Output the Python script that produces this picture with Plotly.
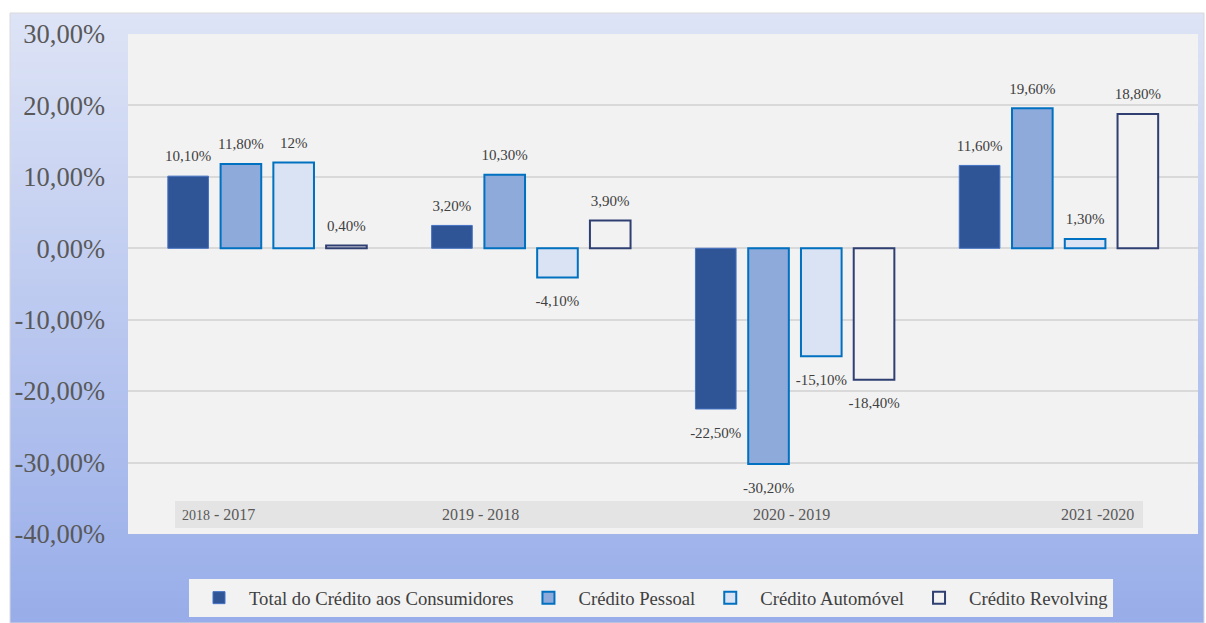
import base64
import struct
import zlib
import plotly.graph_objects as go

# ---------------- data ----------------
categories = ["2018 - 2017", "2019 - 2018", "2020 - 2019", "2021 -2020"]
series_names = ["Total do Crédito aos Consumidores", "Crédito Pessoal",
                "Crédito Automóvel", "Crédito Revolving"]
total = [10.1, 3.2, -22.5, 11.6]
pessoal = [11.8, 10.3, -30.2, 19.6]
automovel = [12.0, -4.1, -15.1, 1.3]
revolving = [0.4, 3.9, -18.4, 18.8]
total_labels = ["10,10%", "3,20%", "-22,50%", "11,60%"]
pessoal_labels = ["11,80%", "10,30%", "-30,20%", "19,60%"]
automovel_labels = ["12%", "-4,10%", "-15,10%", "1,30%"]
revolving_labels = ["0,40%", "3,90%", "-18,40%", "18,80%"]
y_tick_vals = [-40, -30, -20, -10, 0, 10, 20, 30]
y_tick_text = ["-40,00%", "-30,00%", "-20,00%", "-10,00%", "0,00%", "10,00%", "20,00%", "30,00%"]

# ---------------- styles ----------------
FONT = "Liberation Serif, Times New Roman, serif"
fills = ["#2f5597", "#8eaadb", "#dae3f3", "#f2f2f2"]
borders = ["#4472c4", "#0070c0", "#0070c0", "#2f3f72"]
border_w = [1, 2, 2, 2]
BARGAP = 0.2
BARGROUPGAP = 0.23


def gradient_png(top, bottom, h=256, w=4):
    rows = []
    for i in range(h):
        t = i / (h - 1)
        c = bytes(int(round(top[k] + (bottom[k] - top[k]) * t)) for k in range(3))
        rows.append(b"\x00" + c * w)
    raw = b"".join(rows)

    def chunk(tag, data):
        return (struct.pack(">I", len(data)) + tag + data +
                struct.pack(">I", zlib.crc32(tag + data) & 0xffffffff))

    png = (b"\x89PNG\r\n\x1a\n" +
           chunk(b"IHDR", struct.pack(">IIBBBBB", w, h, 8, 2, 0, 0, 0)) +
           chunk(b"IDAT", zlib.compress(raw)) + chunk(b"IEND", b""))
    return "data:image/png;base64," + base64.b64encode(png).decode()


fig = go.Figure()
all_vals = [total, pessoal, automovel, revolving]
all_labels = [total_labels, pessoal_labels, automovel_labels, revolving_labels]

for i, name in enumerate(series_names):
    fig.add_trace(go.Bar(
        x=categories, y=all_vals[i], name=name,
        marker=dict(color=fills[i], line=dict(color=borders[i], width=border_w[i])),
        hoverinfo="skip",
    ))

for i, name in enumerate(series_names):
    vals = all_vals[i]
    fig.add_trace(go.Scatter(
        x=categories, y=vals, mode="markers+text", text=all_labels[i],
        textposition=["top center" if v >= 0 else "bottom center" for v in vals],
        textfont=dict(family=FONT, size=15, color="#404040"),
        marker=dict(color="rgba(0,0,0,0)", line=dict(width=0, color="rgba(0,0,0,0)"),
                    size=[16 if v >= 0 else 26 for v in vals]),
        showlegend=False, hoverinfo="skip", cliponaxis=False,
    ))

# background
W, H = 1206, 623
ML, MR, MT, MB = 128, 8, 34, 89
pw, ph = W - ML - MR, H - MT - MB


def px_x(px):
    return (px - ML) / pw


def px_y(py):
    return (H - MB - py) / ph


fx0, fx1, fy0, fy1 = px_x(10), px_x(1204), px_y(623), px_y(13)
fig.add_layout_image(dict(
    source=gradient_png((222, 228, 246), (152, 173, 233)),
    xref="paper", yref="paper", x=fx0, y=fy1, sizex=fx1 - fx0, sizey=fy1 - fy0,
    xanchor="left", yanchor="top", sizing="stretch", layer="below",
))
fig.add_shape(type="rect", xref="paper", yref="paper", x0=fx0, x1=fx1, y0=fy0, y1=fy1,
              line=dict(color="#d9d9d9", width=1), fillcolor="rgba(0,0,0,0)", layer="below")
fig.add_shape(type="rect", xref="paper", yref="paper", x0=0, x1=1, y0=0, y1=1,
              line=dict(width=0), fillcolor="#f2f2f2", layer="below")
fig.add_shape(type="rect", xref="paper", yref="paper", x0=px_x(175), x1=px_x(1143),
              y0=px_y(528), y1=px_y(501),
              line=dict(width=0), fillcolor="#e4e4e4", layer="below")

cat_label_px = [218, 480.5, 791.5, 1097.5]
for j, (lab, cx) in enumerate(zip(categories, cat_label_px)):
    txt = lab
    if j == 0:
        a, b = lab.split(" - ", 1)
        txt = f"<span style='font-size:14px'>{a}</span> - {b}"
    fig.add_annotation(x=px_x(cx), y=px_y(514.5), xref="paper", yref="paper",
                       xanchor="center", yanchor="middle",
                       text=txt, showarrow=False,
                       font=dict(family=FONT, size=16, color="#595959"))

d = 0.028
fig.update_layout(
    width=W, height=H,
    margin=dict(l=ML, r=MR, t=MT, b=MB, pad=0, autoexpand=False),
    paper_bgcolor="white", plot_bgcolor="rgba(0,0,0,0)",
    barmode="group", bargap=BARGAP, bargroupgap=BARGROUPGAP,
    scattermode="group", scattergap=BARGAP,
    showlegend=True,
    legend=dict(orientation="h", x=px_x(189), y=px_y(579), xanchor="left", yanchor="top",
                bgcolor="#f2f2f2", font=dict(family=FONT, size=18.7, color="#404040"),
                itemwidth=50, itemclick=False, itemdoubleclick=False),
    xaxis=dict(type="category", range=[-0.5 - d, 3.5 + d], showticklabels=False,
               showgrid=False, zeroline=False, showline=False),
    yaxis=dict(range=[-40, 30], tickvals=y_tick_vals, ticktext=y_tick_text,
               showgrid=True, gridcolor="#d9d9d9", gridwidth=1.5, zeroline=False,
               showline=False, ticks="", ticklabelstandoff=22,
               tickfont=dict(family=FONT, size=26.5, color="#595959")),
    font=dict(family=FONT),
)

fig.write_html("out.html")
